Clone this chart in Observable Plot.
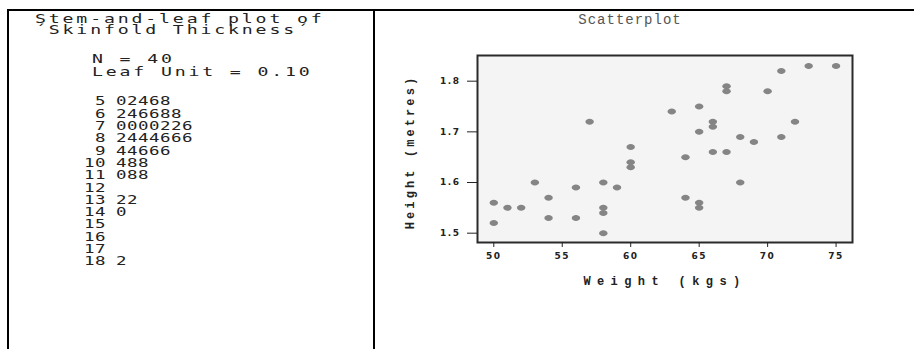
<!DOCTYPE html>
<html>
<head>
<meta charset="utf-8">
<script src="https://cdn.jsdelivr.net/npm/d3@7"></script>
<script src="https://cdn.jsdelivr.net/npm/@observablehq/plot@0.6"></script>
<style>
html,body{margin:0;padding:0;background:#fff;width:914px;height:349px;overflow:hidden;}
#wrap{position:relative;width:914px;height:349px;}
.line{position:absolute;background:#000;}
#chart{position:absolute;left:376px;top:11px;}
.mono{font-family:"DejaVu Sans Mono";font-size:13px;fill:#222;}
.row{font-family:"DejaVu Sans Mono";font-size:12.5px;fill:#222;}
</style>
</head>
<body>
<div id="wrap">
  <div class="line" style="left:7px;top:9px;width:907px;height:2px;"></div>
  <div class="line" style="left:7px;top:9px;width:2px;height:340px;"></div>
  <div class="line" style="left:373px;top:9px;width:2px;height:340px;"></div>
  <div id="chart"></div>
</div>
<script>
// ---- Stem-and-leaf panel data ----
const titleLines = ["Stem-and-leaf plot of", "´Skinfold Thickness´"];
const headerLines = ["N = 40", "Leaf Unit = 0.10"];
const stems = [5, 6, 7, 8, 9, 10, 11, 12, 13, 14, 15, 16, 17, 18];
const leaves = ["02468", "246688", "0000226", "2444666", "44666", "488", "088", "", "22", "0", "", "", "", "2"];

// ---- Scatterplot data ----
const weights = [50, 50, 51, 52, 53, 54, 54, 56, 56, 57, 58, 58, 58, 58, 59, 60, 60, 60, 63, 64,
                 64, 65, 65, 65, 65, 66, 66, 66, 67, 67, 67, 68, 68, 69, 70, 71, 71, 72, 73, 75];
const heights = [1.56, 1.52, 1.55, 1.55, 1.60, 1.57, 1.53, 1.59, 1.53, 1.72, 1.60, 1.55, 1.54, 1.50, 1.59, 1.67, 1.64, 1.63, 1.74, 1.65,
                 1.57, 1.75, 1.70, 1.56, 1.55, 1.72, 1.71, 1.66, 1.79, 1.78, 1.66, 1.69, 1.60, 1.68, 1.78, 1.82, 1.69, 1.72, 1.83, 1.83];
const xTicks = [50, 55, 60, 65, 70, 75];
const yTicks = [1.5, 1.6, 1.7, 1.8];
const chartTitle = "Scatterplot";
const xLabel = "Weight (kgs)";
const yLabel = "Height (metres)";

// ---- Left panel: monospaced text, horizontally stretched like the screenshot ----
const SX = 1.4;
const left = d3.select("#wrap").append("svg")
  .attr("width", 372).attr("height", 349)
  .style("position", "absolute").style("left", "0px").style("top", "0px");
const g = left.append("g").attr("transform", `scale(${SX},1)`);
function put(str, x, y, cls, pitch, anchor) {
  const size = cls === "mono" ? 13 : 12.5;
  const ls = pitch / SX - size * 0.602;
  g.append("text").attr("class", cls).attr("x", x / SX).attr("y", y)
    .attr("text-anchor", anchor || "start")
    .style("letter-spacing", ls + "px").text(str);
}
titleLines.forEach((t, i) => put(t, 35, 23 + i * 11.5, "mono", 13.8));
headerLines.forEach((t, i) => put(t, 92, 63.5 + i * 12.5, "mono", 13.8));
stems.forEach((s, i) => {
  const y = 105.5 + i * 12.3;
  put(String(s), 106, y, "row", 11, "end");
  if (leaves[i]) put(leaves[i], 116, y, "row", 11);
});

// ---- Scatterplot ----
const data = weights.map((w, i) => ({w, h: heights[i]}));
const ellipse = {
  draw(ctx, size) {
    const r = Math.sqrt(size / Math.PI), rx = r * 1.4, ry = r, k = 0.5523;
    ctx.moveTo(rx, 0);
    ctx.bezierCurveTo(rx, ry * k, rx * k, ry, 0, ry);
    ctx.bezierCurveTo(-rx * k, ry, -rx, ry * k, -rx, 0);
    ctx.bezierCurveTo(-rx, -ry * k, -rx * k, -ry, 0, -ry);
    ctx.bezierCurveTo(rx * k, -ry, rx, -ry * k, rx, 0);
    ctx.closePath();
  }
};

const chart = Plot.plot({
  width: 538, height: 338,
  marginLeft: 101, marginRight: 62, marginTop: 44, marginBottom: 107,
  x: {domain: [48.81, 76.2]},
  y: {domain: [1.4816, 1.8507]},
  style: {fontFamily: "DejaVu Sans", fontSize: "9px", fontWeight: "bold", color: "#222", background: "transparent", overflow: "visible"},
  marks: [
    Plot.frame({fill: "#f4f4f4", stroke: "none"}),
    Plot.dot(data, {x: "w", y: "h", r: 3, symbol: ellipse, fill: "#858585", stroke: "none"}),
    Plot.frame({stroke: "#2a2a2a", strokeWidth: 2}),
    Plot.axisX({ticks: xTicks, tickSize: 5, tickPadding: 5, label: null, tickFormat: d => String(d), stroke: "#222"}),
    Plot.axisY({ticks: yTicks, tickSize: 10, tickPadding: 7, label: null, tickFormat: d => d.toFixed(1), stroke: "#222"}),
    Plot.text([chartTitle], {frameAnchor: "top", dy: -41, dx: -35, text: d => d, fontFamily: "Liberation Mono", fontSize: 14, fontWeight: "normal", fill: "#555"}),
    Plot.text([xLabel], {frameAnchor: "bottom", dy: 42, dx: 0, text: d => d, fontFamily: "Liberation Mono", fontSize: 12, fontWeight: "bold", fill: "#222"}),
    Plot.text([yLabel], {frameAnchor: "left", textAnchor: "middle", lineAnchor: "middle", dx: -67, dy: 3, rotate: -90, text: d => d, fontFamily: "Liberation Mono", fontSize: 12, fontWeight: "bold", fill: "#222"})
  ]
});
document.getElementById("chart").appendChild(chart);

// letter spacing tweaks for the bitmap-like fonts
const spacing = new Map([[chartTitle, 1], [xLabel, 6.4], [yLabel, 3.1]]);
d3.select(chart).selectAll("text").each(function() {
  const t = this.textContent;
  if (spacing.has(t)) this.style.letterSpacing = spacing.get(t) + "px";
  else if (/^[0-9.]+$/.test(t)) this.style.letterSpacing = "1.5px";
});
</script>
</body>
</html>
